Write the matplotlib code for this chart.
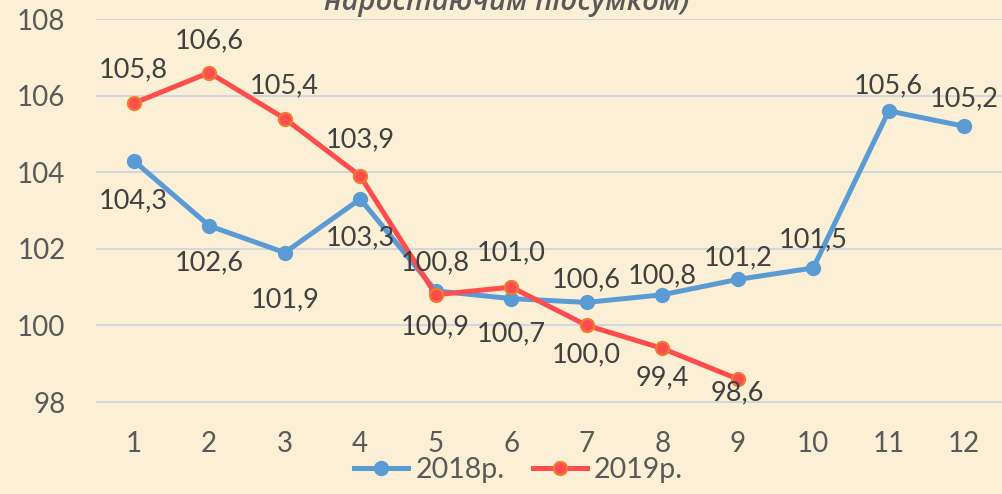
import matplotlib
matplotlib.use("Agg")
import matplotlib.pyplot as plt
from matplotlib.lines import Line2D

months = [1, 2, 3, 4, 5, 6, 7, 8, 9, 10, 11, 12]
tick_labels = ["1", "2", "3", "4", "5", "6", "7", "8", "9", "10", "11", "12"]
y2018 = [104.3, 102.6, 101.9, 103.3, 100.9, 100.7, 100.6, 100.8, 101.2, 101.5, 105.6, 105.2]
y2019 = [105.8, 106.6, 105.4, 103.9, 100.8, 101.0, 100.0, 99.4, 98.6]
yticks = [98, 100, 102, 104, 106, 108]

# label vertical offsets (pixels, styling only)
off2018 = [-40, -37, -47, -39, -36, -35, 23, 19, 22, 28, 25, 27]
off2019 = [33, 32, 33, 36, 32, 34, -29, -29, -14]

plt.rcParams['font.family'] = ['Lato', 'DejaVu Sans']

W, H = 1003, 494
fig = plt.figure(figsize=(W / 100, H / 100), dpi=100)
bg = "#FBF0D6"
fig.patch.set_facecolor(bg)

left, right = 96, 1002
top_px, bottom_px = 19, 425
ax = fig.add_axes([left / W, 1 - bottom_px / H, (right - left) / W, (bottom_px - top_px) / H])
ax.set_facecolor(bg)
ax.set_xlim(0.5, 12.5)
ax.set_ylim(98 - (bottom_px - 402) / 38.3, 108)
for s in ax.spines.values():
    s.set_visible(False)
ax.set_yticks(yticks)
ax.set_yticklabels([str(v) for v in yticks])
ax.set_xticks(months)
ax.set_xticklabels(tick_labels)
ax.tick_params(length=0, labelsize=20, colors="#595959", pad=0)
ax.tick_params(axis='y', pad=22)
ax.tick_params(axis='x', pad=4)
ax.grid(axis='y', color="#D3D6DC", linewidth=1.5)
ax.set_axisbelow(True)

blue = "#5B9BD5"
red = "#FF4D4D"
orange = "#ED7D31"
ax.plot(months, y2018, color=blue, lw=3.6, marker='o', ms=10, mfc=blue, mec=blue, zorder=3, clip_on=False)
ax.plot(months[:len(y2019)], y2019, color=red, lw=3.6, marker='o', ms=9.5, mfc=red, mec=orange, mew=1.5, zorder=4, clip_on=False)

def fmt(v):
    return f"{v:.1f}".replace(".", ",")

for x, v, o in zip(months, y2018, off2018):
    ax.annotate(fmt(v), (x, v), xytext=(0, o), textcoords='offset pixels',
                ha='center', va='center', fontsize=19.5, color="#404040", zorder=6)
for x, v, o in zip(months, y2019, off2019):
    ax.annotate(fmt(v), (x, v), xytext=(0, o), textcoords='offset pixels',
                ha='center', va='center', fontsize=19.5, color="#404040", zorder=6)

fig.text(0.505, 1 - 10 / H, "наростаючим підсумком)", ha='center', va='baseline',
         fontsize=21, style='italic', fontweight='semibold', color="#595959",
         family=['Open Sans', 'DejaVu Sans'])

handles = [Line2D([], [], color=blue, lw=3.6, marker='o', ms=10, mfc=blue, mec=blue),
           Line2D([], [], color=red, lw=3.6, marker='o', ms=9.5, mfc=red, mec=orange, mew=1.5)]
fig.legend(handles, ["2018р.", "2019р."], loc='center', bbox_to_anchor=(0.517, 1 - 470 / H),
           ncol=2, frameon=False, fontsize=20.5, handlelength=1.9, columnspacing=1.0,
           handletextpad=0.25, labelcolor="#595959")

fig.savefig("out.png", dpi=100, facecolor=bg)
